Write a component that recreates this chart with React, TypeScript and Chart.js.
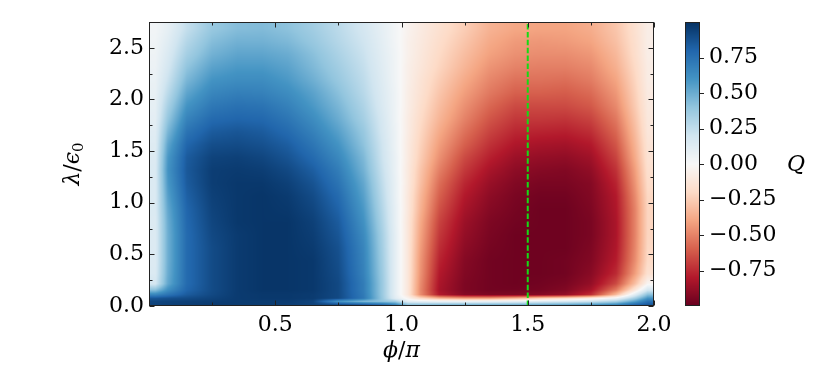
import React, { useEffect, useRef } from 'react';
import { Chart, registerables } from 'chart.js';

Chart.register(...registerables);

// ---------- data ----------
// sample positions of the Q grid (phi / pi across, lambda / eps0 up)
const phiNodes = [0.025, 0.075, 0.15, 0.25, 0.35, 0.45, 0.55, 0.65, 0.75, 0.85, 0.925, 0.975, 1.025, 1.075, 1.15, 1.25, 1.35, 1.45, 1.55, 1.65, 1.75, 1.85, 1.925, 1.975];
const lambdaNodes = [0.015, 0.045, 0.075, 0.11, 0.155, 0.215, 0.3125, 0.4375, 0.5625, 0.6875, 0.8125, 0.9375, 1.0625, 1.1875, 1.3125, 1.4375, 1.5625, 1.6875, 1.8125, 1.9375, 2.0625, 2.1875, 2.3125, 2.4375, 2.5625, 2.6875];

// Q values, rows from the top (lambda 2.6875) down to lambda 0.015, one value per phi node
const qRows = [
  [0.03, 0.09, 0.24, 0.38, 0.43, 0.44, 0.41, 0.35, 0.27, 0.18, 0.09, 0.03, -0.04, -0.09, -0.16, -0.25, -0.35, -0.39, -0.4, -0.4, -0.37, -0.28, -0.16, -0.07],
  [0.04, 0.12, 0.29, 0.43, 0.48, 0.48, 0.45, 0.38, 0.29, 0.2, 0.1, 0.03, -0.05, -0.1, -0.18, -0.28, -0.38, -0.43, -0.44, -0.43, -0.4, -0.3, -0.17, -0.07],
  [0.05, 0.15, 0.34, 0.48, 0.53, 0.53, 0.5, 0.42, 0.32, 0.22, 0.11, 0.04, -0.05, -0.11, -0.2, -0.31, -0.41, -0.46, -0.47, -0.47, -0.44, -0.33, -0.18, -0.07],
  [0.06, 0.18, 0.4, 0.54, 0.58, 0.58, 0.54, 0.45, 0.35, 0.24, 0.12, 0.04, -0.06, -0.12, -0.22, -0.34, -0.45, -0.5, -0.51, -0.51, -0.48, -0.36, -0.2, -0.08],
  [0.07, 0.22, 0.46, 0.6, 0.63, 0.63, 0.58, 0.49, 0.38, 0.26, 0.13, 0.04, -0.06, -0.14, -0.25, -0.38, -0.49, -0.55, -0.55, -0.56, -0.52, -0.4, -0.22, -0.08],
  [0.08, 0.27, 0.53, 0.66, 0.69, 0.68, 0.63, 0.54, 0.42, 0.28, 0.14, 0.05, -0.07, -0.15, -0.28, -0.42, -0.53, -0.6, -0.6, -0.61, -0.57, -0.44, -0.24, -0.09],
  [0.09, 0.33, 0.6, 0.72, 0.75, 0.74, 0.68, 0.58, 0.46, 0.31, 0.15, 0.05, -0.07, -0.17, -0.31, -0.46, -0.58, -0.66, -0.66, -0.66, -0.62, -0.48, -0.26, -0.1],
  [0.1, 0.39, 0.67, 0.78, 0.8, 0.79, 0.73, 0.63, 0.5, 0.34, 0.17, 0.05, -0.08, -0.19, -0.34, -0.5, -0.63, -0.71, -0.71, -0.72, -0.68, -0.53, -0.29, -0.11],
  [0.12, 0.46, 0.74, 0.84, 0.86, 0.84, 0.78, 0.68, 0.55, 0.38, 0.18, 0.06, -0.08, -0.21, -0.38, -0.55, -0.68, -0.76, -0.77, -0.78, -0.74, -0.58, -0.32, -0.12],
  [0.13, 0.53, 0.8, 0.89, 0.9, 0.88, 0.83, 0.73, 0.6, 0.41, 0.2, 0.06, -0.09, -0.23, -0.42, -0.6, -0.73, -0.81, -0.83, -0.84, -0.8, -0.63, -0.35, -0.14],
  [0.14, 0.58, 0.84, 0.93, 0.94, 0.92, 0.87, 0.78, 0.65, 0.45, 0.21, 0.07, -0.09, -0.25, -0.46, -0.66, -0.78, -0.86, -0.88, -0.89, -0.85, -0.68, -0.38, -0.15],
  [0.15, 0.6, 0.85, 0.95, 0.96, 0.95, 0.91, 0.83, 0.7, 0.48, 0.23, 0.07, -0.1, -0.28, -0.51, -0.71, -0.83, -0.9, -0.92, -0.93, -0.89, -0.73, -0.42, -0.17],
  [0.15, 0.58, 0.84, 0.95, 0.97, 0.97, 0.94, 0.87, 0.74, 0.52, 0.25, 0.08, -0.1, -0.3, -0.56, -0.76, -0.87, -0.93, -0.95, -0.95, -0.92, -0.77, -0.45, -0.19],
  [0.15, 0.55, 0.82, 0.94, 0.97, 0.98, 0.96, 0.9, 0.78, 0.55, 0.27, 0.08, -0.11, -0.33, -0.6, -0.8, -0.9, -0.95, -0.97, -0.97, -0.93, -0.8, -0.48, -0.21],
  [0.15, 0.52, 0.8, 0.93, 0.97, 0.98, 0.97, 0.92, 0.81, 0.58, 0.29, 0.09, -0.11, -0.35, -0.64, -0.83, -0.92, -0.96, -0.98, -0.98, -0.94, -0.81, -0.5, -0.22],
  [0.14, 0.5, 0.79, 0.92, 0.97, 0.98, 0.98, 0.94, 0.84, 0.61, 0.31, 0.09, -0.12, -0.38, -0.68, -0.86, -0.94, -0.97, -0.98, -0.98, -0.95, -0.82, -0.5, -0.22],
  [0.14, 0.49, 0.78, 0.91, 0.96, 0.98, 0.98, 0.95, 0.86, 0.64, 0.33, 0.1, -0.12, -0.4, -0.71, -0.88, -0.95, -0.98, -0.98, -0.98, -0.95, -0.82, -0.5, -0.22],
  [0.14, 0.49, 0.78, 0.9, 0.96, 0.98, 0.98, 0.96, 0.88, 0.66, 0.34, 0.1, -0.12, -0.42, -0.74, -0.9, -0.96, -0.98, -0.98, -0.98, -0.94, -0.81, -0.49, -0.21],
  [0.14, 0.49, 0.78, 0.9, 0.96, 0.98, 0.98, 0.97, 0.89, 0.67, 0.35, 0.1, -0.12, -0.44, -0.77, -0.92, -0.97, -0.98, -0.98, -0.97, -0.93, -0.79, -0.47, -0.2],
  [0.15, 0.5, 0.78, 0.9, 0.96, 0.98, 0.98, 0.97, 0.9, 0.68, 0.36, 0.1, -0.12, -0.45, -0.8, -0.93, -0.97, -0.98, -0.98, -0.97, -0.91, -0.75, -0.42, -0.16],
  [0.18, 0.52, 0.78, 0.9, 0.96, 0.98, 0.98, 0.97, 0.91, 0.7, 0.37, 0.1, -0.12, -0.47, -0.82, -0.94, -0.97, -0.98, -0.97, -0.95, -0.88, -0.66, -0.3, -0.02],
  [0.42, 0.62, 0.8, 0.9, 0.96, 0.98, 0.98, 0.97, 0.91, 0.7, 0.37, 0.1, -0.12, -0.48, -0.83, -0.94, -0.97, -0.97, -0.96, -0.93, -0.83, -0.52, -0.12, 0.18],
  [0.66, 0.74, 0.84, 0.91, 0.96, 0.97, 0.97, 0.96, 0.91, 0.71, 0.37, 0.1, -0.12, -0.47, -0.8, -0.92, -0.94, -0.94, -0.92, -0.88, -0.74, -0.32, 0.12, 0.42],
  [0.86, 0.88, 0.9, 0.93, 0.96, 0.97, 0.97, 0.96, 0.91, 0.72, 0.38, 0.12, -0.03, -0.2, -0.35, -0.42, -0.42, -0.35, -0.25, -0.18, -0.08, 0.05, 0.35, 0.6],
  [0.92, 0.93, 0.94, 0.95, 0.96, 0.96, 0.96, 0.93, 0.6, 0.45, 0.4, 0.35, 0.1, 0.08, 0.05, 0.05, 0.06, 0.08, 0.12, 0.15, 0.2, 0.32, 0.55, 0.75],
  [0.93, 0.94, 0.95, 0.96, 0.96, 0.96, 0.95, 0.93, 0.88, 0.82, 0.75, 0.65, 0.4, 0.4, 0.42, 0.43, 0.44, 0.45, 0.47, 0.5, 0.55, 0.62, 0.78, 0.85],
];

const guidePhi = 1.5;
const xTickValues = [0.5, 1.0, 1.5, 2.0];
const xMinorTicks = [0.25, 0.75, 1.25, 1.75];
const yTickValues = [0, 0.5, 1.0, 1.5, 2.0, 2.5];
const yMinorTicks = [0.25, 0.75, 1.25, 1.75, 2.25];
const cbTickValues = [-0.75, -0.5, -0.25, 0, 0.25, 0.5, 0.75];
const Q_MIN = -1;
const Q_MAX = 1;
const PHI_MAX = 2;
const LAMBDA_MAX = 2.75;

// ---------- style ----------
const RDBU = ['#67001f', '#b2182b', '#d6604d', '#f4a582', '#fddbc7', '#f7f7f7', '#d1e5f0', '#92c5de', '#4393c3', '#2166ac', '#053061'];
const SERIF = '"DejaVu Serif", serif';
const TICK_FONT_SIZE = 22;

function hexToRgb(h: string) {
  return [parseInt(h.slice(1, 3), 16), parseInt(h.slice(3, 5), 16), parseInt(h.slice(5, 7), 16)];
}
const RDBU_RGB = RDBU.map(hexToRgb);

function qRgb(q: number) {
  let t = (q - Q_MIN) / (Q_MAX - Q_MIN);
  t = Math.max(0, Math.min(1, t));
  const p = t * (RDBU_RGB.length - 1);
  const i = Math.min(RDBU_RGB.length - 2, Math.floor(p));
  const f = p - i;
  const a = RDBU_RGB[i];
  const b = RDBU_RGB[i + 1];
  return a.map((v, k) => Math.round(v + (b[k] - v) * f));
}
function qColor(q: number) {
  const c = qRgb(q);
  return `rgb(${c[0]},${c[1]},${c[2]})`;
}

function fmtNum(v: number, d: number) {
  const s = Math.abs(v).toFixed(d);
  return v < -1e-9 ? '\u2212' + s : s;
}

function locate(nodes: number[], v: number): [number, number] {
  const n = nodes.length;
  if (v <= nodes[0]) return [0, 0];
  if (v >= nodes[n - 1]) return [n - 2, 1];
  let i = 0;
  while (i < n - 2 && v > nodes[i + 1]) i++;
  return [i, (v - nodes[i]) / (nodes[i + 1] - nodes[i])];
}

// smooth (bilinear) shading of the Q grid, positioned through the chart's scales
const heatmapPlugin = {
  id: 'heatmap',
  beforeDatasetsDraw(chart: any) {
    const { ctx, chartArea, scales } = chart;
    const xs = scales.x;
    const ys = scales.y;
    const x0 = Math.round(chartArea.left);
    const y0 = Math.round(chartArea.top);
    const w = Math.round(chartArea.right) - x0;
    const h = Math.round(chartArea.bottom) - y0;
    if (w <= 0 || h <= 0) return;
    const grid = qRows.slice().reverse(); // bottom-up, aligned with lambdaNodes
    const cols: [number, number][] = [];
    for (let i = 0; i < w; i++) cols.push(locate(phiNodes, xs.getValueForPixel(x0 + i + 0.5)));
    const img = ctx.createImageData(w, h);
    const d = img.data;
    for (let j = 0; j < h; j++) {
      const [r, fy] = locate(lambdaNodes, ys.getValueForPixel(y0 + j + 0.5));
      const lo = grid[r];
      const hi = grid[r + 1];
      for (let i = 0; i < w; i++) {
        const [c, fx] = cols[i];
        const a = lo[c] + (lo[c + 1] - lo[c]) * fx;
        const b = hi[c] + (hi[c + 1] - hi[c]) * fx;
        const rgb = qRgb(a + (b - a) * fy);
        const k = (j * w + i) * 4;
        d[k] = rgb[0];
        d[k + 1] = rgb[1];
        d[k + 2] = rgb[2];
        d[k + 3] = 255;
      }
    }
    ctx.putImageData(img, x0, y0);
  },
};

type Seg = { t: string; font: string; dy?: number };

function drawSegs(ctx: CanvasRenderingContext2D, segs: Seg[], cx: number, baseY: number) {
  let total = 0;
  const widths = segs.map((s) => {
    ctx.font = s.font;
    const w = ctx.measureText(s.t).width;
    total += w;
    return w;
  });
  let x = cx - total / 2;
  ctx.textAlign = 'left';
  ctx.textBaseline = 'alphabetic';
  segs.forEach((s, i) => {
    ctx.font = s.font;
    ctx.fillText(s.t, x, baseY + (s.dy || 0));
    x += widths[i];
  });
}

const decorPlugin = {
  id: 'decor',
  afterDatasetsDraw(chart: any) {
    const { ctx, chartArea, scales } = chart;
    const xs = scales.x;
    const ys = scales.y;
    const cb = scales.cb;
    const L = Math.round(chartArea.left) + 0.5;
    const R = Math.round(chartArea.right) - 0.5;
    const T = Math.round(chartArea.top) + 0.5;
    const B = Math.round(chartArea.bottom) - 0.5;
    ctx.save();
    ctx.strokeStyle = '#222';
    ctx.lineWidth = 1;
    const tick = (ax: number, ay: number, bx: number, by: number) => {
      ctx.beginPath();
      ctx.moveTo(ax, ay);
      ctx.lineTo(bx, by);
      ctx.stroke();
    };
    const major = 5;
    const minor = 3;
    xTickValues.forEach((v) => {
      const px = Math.round(xs.getPixelForValue(v)) + 0.5;
      tick(px, B, px, B - major);
      tick(px, T, px, T + major);
    });
    xMinorTicks.forEach((v) => {
      const px = Math.round(xs.getPixelForValue(v)) + 0.5;
      tick(px, B, px, B - minor);
      tick(px, T, px, T + minor);
    });
    yTickValues.forEach((v) => {
      const py = Math.round(ys.getPixelForValue(v)) + 0.5;
      tick(L, py, L + major, py);
      tick(R, py, R - major, py);
    });
    yMinorTicks.forEach((v) => {
      const py = Math.round(ys.getPixelForValue(v)) + 0.5;
      tick(L, py, L + minor, py);
      tick(R, py, R - minor, py);
    });
    ctx.strokeRect(L, T, R - L, B - T);

    // colorbar
    const cbL = Math.round(cb.left) + 31;
    const cbR = Math.round(cb.left) + 46;
    const steps = 284;
    for (let i = 0; i < steps; i++) {
      const q0 = Q_MIN + ((Q_MAX - Q_MIN) * i) / steps;
      const q1 = Q_MIN + ((Q_MAX - Q_MIN) * (i + 1)) / steps;
      const ya = Math.round(cb.getPixelForValue(q1));
      const yb = Math.round(cb.getPixelForValue(q0));
      ctx.fillStyle = qColor((q0 + q1) / 2);
      ctx.fillRect(cbL, ya, cbR - cbL, Math.max(1, yb - ya));
    }
    const cT = Math.round(cb.getPixelForValue(Q_MAX)) + 0.5;
    const cB = Math.round(cb.getPixelForValue(Q_MIN)) - 0.5;
    ctx.strokeRect(cbL + 0.5, cT, cbR - cbL - 1, cB - cT);
    cbTickValues.forEach((v) => {
      const py = Math.round(cb.getPixelForValue(v)) + 0.5;
      tick(cbR - 0.5, py, cbR + 4, py);
    });

    // axis titles
    ctx.fillStyle = '#000';
    const it = `italic ${TICK_FONT_SIZE}px ${SERIF}`;
    const up = `${TICK_FONT_SIZE}px ${SERIF}`;
    const sub = `${Math.round(TICK_FONT_SIZE * 0.7)}px ${SERIF}`;
    const midX = (chartArea.left + chartArea.right) / 2;
    const midY = (chartArea.top + chartArea.bottom) / 2;
    drawSegs(ctx, [{ t: '\u03d5', font: it }, { t: '/', font: up }, { t: '\u03c0', font: it }], midX, 357);

    ctx.save();
    ctx.translate(79, midY);
    ctx.rotate(-Math.PI / 2);
    drawSegs(ctx, [{ t: '\u03bb', font: it }, { t: '/', font: up }, { t: '\u03f5', font: it }, { t: '0', font: sub, dy: 4 }], 0, 0);
    ctx.restore();

    drawSegs(ctx, [{ t: 'Q', font: it }], 796, midY + 7);
    ctx.restore();
  },
};

export default function App() {
  const ref = useRef<HTMLCanvasElement>(null);
  useEffect(() => {
    if (!ref.current) return;
    const tickFont = { family: SERIF, size: TICK_FONT_SIZE };
    const noPad = (s: any) => {
      s.paddingTop = 0;
      s.paddingBottom = 0;
      s.paddingLeft = 0;
      s.paddingRight = 0;
    };
    const chart = new Chart(ref.current, {
      type: 'scatter',
      data: {
        datasets: [
          {
            data: [
              { x: guidePhi, y: 0 },
              { x: guidePhi, y: LAMBDA_MAX },
            ],
            showLine: true,
            borderColor: '#14dc14',
            borderWidth: 2,
            borderDash: [5.5, 2.4],
            pointRadius: 0,
            fill: false,
          },
        ],
      },
      options: {
        animation: false,
        responsive: false,
        devicePixelRatio: 1,
        layout: { padding: { top: 22, left: 0, right: 0, bottom: 0 } },
        plugins: { legend: { display: false }, tooltip: { enabled: false } },
        scales: {
          x: {
            type: 'linear',
            position: 'bottom',
            min: 0,
            max: PHI_MAX,
            grid: { display: false, drawTicks: false },
            border: { display: false },
            ticks: { font: tickFont, color: '#000', padding: 6, maxRotation: 0, autoSkip: false, callback: (v: any) => fmtNum(Number(v), 1) },
            afterBuildTicks: (s: any) => {
              s.ticks = xTickValues.map((v) => ({ value: v }));
            },
            afterFit: (s: any) => {
              s.height = 63;
              noPad(s);
            },
          },
          y: {
            type: 'linear',
            position: 'left',
            min: 0,
            max: LAMBDA_MAX,
            grid: { display: false, drawTicks: false },
            border: { display: false },
            ticks: { font: tickFont, color: '#000', padding: 5, autoSkip: false, callback: (v: any) => fmtNum(Number(v), 1) },
            afterBuildTicks: (s: any) => {
              s.ticks = yTickValues.map((v) => ({ value: v }));
            },
            afterFit: (s: any) => {
              s.width = 149;
              noPad(s);
            },
          },
          cb: {
            type: 'linear',
            axis: 'y',
            position: 'right',
            min: Q_MIN,
            max: Q_MAX,
            grid: { display: false, drawTicks: false },
            border: { display: false },
            ticks: { font: tickFont, color: '#000', padding: 55, autoSkip: false, callback: (v: any) => fmtNum(Number(v), 2) },
            afterBuildTicks: (s: any) => {
              s.ticks = cbTickValues.map((v) => ({ value: v }));
            },
            afterFit: (s: any) => {
              s.width = 176;
              noPad(s);
            },
          },
        },
      } as any,
      plugins: [heatmapPlugin, decorPlugin],
    });
    return () => chart.destroy();
  }, []);

  return (
    <div style={{ position: 'fixed', left: 0, top: 0, width: 830, height: 369, background: '#fff' }}>
      <canvas ref={ref} width={830} height={369} style={{ width: 830, height: 369, display: 'block' }} />
    </div>
  );
}
